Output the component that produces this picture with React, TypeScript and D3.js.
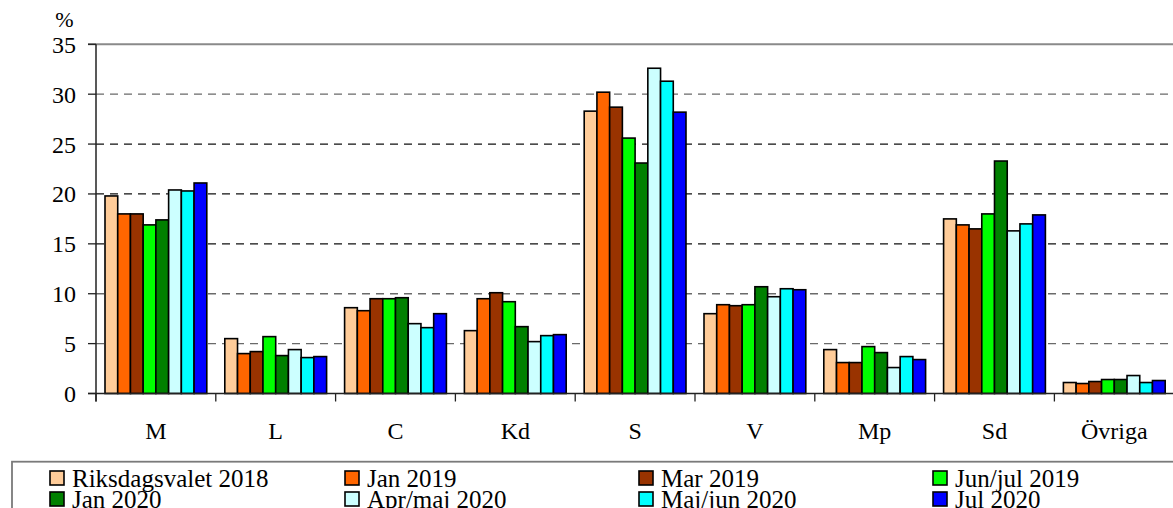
import React from "react";
import * as d3 from "d3";

const categories = ["M", "L", "C", "Kd", "S", "V", "Mp", "Sd", "Övriga"];
const seriesNames = [
  "Riksdagsvalet 2018",
  "Jan 2019",
  "Mar 2019",
  "Jun/jul 2019",
  "Jan 2020",
  "Apr/maj 2020",
  "Maj/jun 2020",
  "Jul 2020",
];
const seriesColors = ["#FFCC99", "#FF6600", "#993300", "#00FF00", "#008000", "#CCFFFF", "#00FFFF", "#0000FF"];

const riksdagsvalet2018 = [19.8, 5.5, 8.6, 6.3, 28.3, 8.0, 4.4, 17.5, 1.1];
const jan2019 = [18.0, 4.0, 8.3, 9.5, 30.2, 8.9, 3.1, 16.9, 1.0];
const mar2019 = [18.0, 4.2, 9.5, 10.1, 28.7, 8.8, 3.1, 16.5, 1.2];
const junjul2019 = [16.9, 5.7, 9.5, 9.2, 25.6, 8.9, 4.7, 18.0, 1.4];
const jan2020 = [17.4, 3.8, 9.6, 6.7, 23.1, 10.7, 4.1, 23.3, 1.4];
const aprmaj2020 = [20.4, 4.4, 7.0, 5.2, 32.6, 9.7, 2.6, 16.3, 1.8];
const majjun2020 = [20.3, 3.6, 6.6, 5.8, 31.3, 10.5, 3.7, 17.0, 1.1];
const jul2020 = [21.1, 3.7, 8.0, 5.9, 28.2, 10.4, 3.4, 17.9, 1.3];

const seriesValues = [riksdagsvalet2018, jan2019, mar2019, junjul2019, jan2020, aprmaj2020, majjun2020, jul2020];
const yTicks = [0, 5, 10, 15, 20, 25, 30, 35];

const W = 1173;
const H = 508;
const FONT = "Liberation Serif, DejaVu Serif, serif";

export default function App() {
  const left = 96;
  const bandW = 119.8;
  const top = 44.3;
  const bottom = 393.5;
  const x0 = d3.scaleBand<string>().domain(categories).range([left, left + bandW * categories.length]).padding(0);
  const x1 = d3.scaleBand<string>().domain(seriesNames).range([9, bandW - 9]).padding(0);
  const y = d3.scaleLinear().domain([0, 35]).range([bottom, top]);
  const rightEdge = left + bandW * categories.length;

  const legendCols = [50, 345, 639, 933];

  return (
    <div style={{ position: "absolute", left: 0, top: 0 }}>
      <svg width={W} height={H} fontFamily={FONT} style={{ display: "block" }}>
        <rect x={0} y={0} width={W} height={H} fill="#fff" />
        {yTicks.filter((t) => t > 0 && t < 35).map((t) => (
          <line
            key={"g" + t}
            x1={left}
            x2={rightEdge}
            y1={y(t)}
            y2={y(t)}
            stroke={t === 5 || t === 10 || t === 30 ? "#6a6a6a" : "#111"}
            strokeWidth={1.3}
            strokeDasharray="8,6"
          />
        ))}
        <line x1={left - 8} x2={rightEdge} y1={y(35)} y2={y(35)} stroke="#8a8a8a" strokeWidth={2} />
        {categories.map((c, ci) => (
          <g key={c} transform={`translate(${x0(c)},0)`}>
            {seriesNames.map((s, si) => {
              const v = seriesValues[si][ci];
              return (
                <rect
                  key={s}
                  x={x1(s)}
                  y={y(v)}
                  width={x1.bandwidth()}
                  height={y(0) - y(v)}
                  fill={seriesColors[si]}
                  stroke="#000"
                  strokeWidth={1.6}
                />
              );
            })}
          </g>
        ))}
        <line x1={left} x2={left} y1={top} y2={bottom + 8} stroke="#222" strokeWidth={1.5} />
        <line x1={left - 8} x2={rightEdge} y1={bottom} y2={bottom} stroke="#222" strokeWidth={1.5} />
        {yTicks.map((t) => (
          <g key={"t" + t}>
            <line x1={left - 8} x2={left} y1={y(t)} y2={y(t)} stroke="#222" strokeWidth={1.3} />
            <text x={left - 20} y={y(t) + 8.5} textAnchor="end" fontSize={24} fill="#000">
              {t}
            </text>
          </g>
        ))}
        {categories.map((c) => (
          <g key={"x" + c}>
            <line x1={x0(c)!} x2={x0(c)!} y1={bottom} y2={bottom + 8} stroke="#222" strokeWidth={1.3} />
            <text x={x0(c)! + x0.bandwidth() / 2} y={439} textAnchor="middle" fontSize={24} fill="#000">
              {c}
            </text>
          </g>
        ))}
        <text x={64.5} y={27} textAnchor="middle" fontSize={22} fill="#000">
          %
        </text>
        <rect x={12} y={461.7} width={W + 20} height={80} fill="none" stroke="#7a7a7a" strokeWidth={1.8} />
        {seriesNames.map((s, i) => {
          const col = i % 4;
          const row = Math.floor(i / 4);
          const lx = legendCols[col];
          const ly = 471 + row * 21;
          return (
            <g key={"l" + s}>
              <rect x={lx} y={ly} width={14} height={14} fill={seriesColors[i]} stroke="#000" strokeWidth={1.6} />
              <text x={lx + 22} y={ly + 16} fontSize={25} fill="#000">
                {s}
              </text>
            </g>
          );
        })}
      </svg>
    </div>
  );
}
